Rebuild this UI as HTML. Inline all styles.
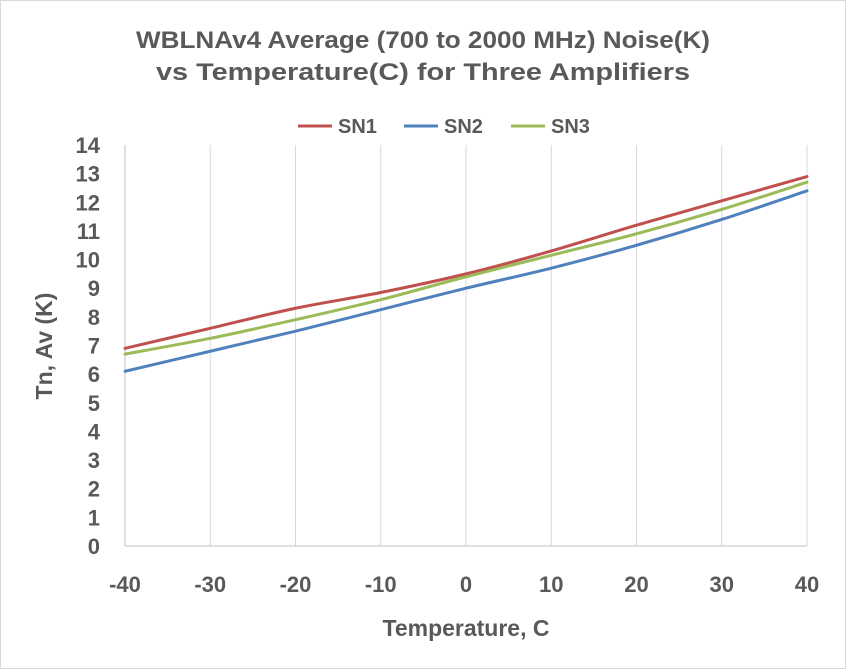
<!DOCTYPE html>
<html><head><meta charset="utf-8"><style>
body{margin:0;background:#fff;}
svg{display:block;font-family:"Liberation Sans",Arial,sans-serif;}
</style></head><body>
<svg id="chart" width="846" height="669" viewBox="0 0 846 669">
<rect x="0.5" y="0.5" width="845" height="668" fill="#fff" stroke="#d9d9d9"/>
<text x="423" y="48" text-anchor="middle" font-size="24" font-weight="bold" fill="#595959" textLength="574" lengthAdjust="spacingAndGlyphs">WBLNAv4 Average  (700 to 2000 MHz) Noise(K)</text>
<text x="423" y="80" text-anchor="middle" font-size="24" font-weight="bold" fill="#595959" textLength="534" lengthAdjust="spacingAndGlyphs">vs  Temperature(C)  for Three Amplifiers</text>
<g id="grid"></g>
<g id="axes"></g>
<g id="series"></g>
<g id="legend"></g>
<text x="0" y="0" transform="translate(52,346) rotate(-90)" text-anchor="middle" font-size="23" font-weight="bold" fill="#595959">Tn, Av (K)</text>
<text x="466" y="636" text-anchor="middle" font-size="23" font-weight="bold" fill="#595959">Temperature, C</text>
</svg>
<script>
const temps=[-40,-30,-20,-10,0,10,20,30,40];
const sn1=[6.9,7.6,8.3,8.85,9.5,10.3,11.2,12.05,12.9];
const sn2=[6.1,6.8,7.5,8.25,9.0,9.7,10.5,11.4,12.4];
const sn3=[6.7,7.25,7.9,8.6,9.4,10.15,10.9,11.75,12.7];
const xTicks=[-40,-30,-20,-10,0,10,20,30,40];
const yTicks=[0,1,2,3,4,5,6,7,8,9,10,11,12,13,14];
const seriesNames=["SN1","SN2","SN3"];
const NS="http://www.w3.org/2000/svg";
const X0=125,X1=807,Y0=546,Y1=145;
function xs(v){return X0+(v+40)/80*(X1-X0);}
function ys(v){return Y0-v/14*(Y0-Y1);}
function mk(tag,attrs,parent){const e=document.createElementNS(NS,tag);for(const k in attrs)e.setAttribute(k,attrs[k]);parent.appendChild(e);return e;}
const grid=document.getElementById('grid'),axes=document.getElementById('axes'),ser=document.getElementById('series'),leg=document.getElementById('legend');
xTicks.forEach(t=>{
 if(t>-40){const l=mk('line',{x1:xs(t),x2:xs(t),y1:Y1,y2:Y0,stroke:'#d9d9d9','stroke-width':1},grid);
 
 }
 const tx=mk('text',{x:xs(t),y:Y0+46,'text-anchor':'middle','font-size':22,'font-weight':'bold',fill:'#595959'},axes);
 tx.textContent=t;
 
 
});
yTicks.forEach(t=>{
 const tx=mk('text',{x:100,y:ys(t)+8,'text-anchor':'end','font-size':22,'font-weight':'bold',fill:'#595959'},axes);
 tx.textContent=t;
 
 
});
const ax=mk('line',{x1:X0,x2:X1,y1:Y0,y2:Y0,stroke:'#bfbfbf','stroke-width':1},axes);


const ay=mk('line',{x1:X0,x2:X0,y1:Y1,y2:Y0,stroke:'#bfbfbf','stroke-width':1},axes);


const colors=['#c0504d','#4f81bd','#9bbb59'];
[sn1,sn2,sn3].forEach((vals,i)=>{
 const pts=temps.map((t,j)=>[xs(t),ys(vals[j])]);
 let d='M'+pts[0][0]+','+pts[0][1];
 for(let j=0;j<pts.length-1;j++){
  const p0=pts[Math.max(0,j-1)],p1=pts[j],p2=pts[j+1],p3=pts[Math.min(pts.length-1,j+2)];
  const c1=[p1[0]+(p2[0]-p0[0])/6,p1[1]+(p2[1]-p0[1])/6],c2=[p2[0]-(p3[0]-p1[0])/6,p2[1]-(p3[1]-p1[1])/6];
  d+=' C'+c1+' '+c2+' '+p2;
 }
 const p=mk('path',{d:d,fill:'none',stroke:colors[i],'stroke-width':3,'stroke-linecap':'round'},ser);
 
 
 const lx=[298,404,511][i];
 const ll=mk('line',{x1:lx,x2:lx+34,y1:126,y2:126,stroke:colors[i],'stroke-width':3},leg);
 
 
 const lt=mk('text',{x:lx+40,y:133,'font-size':20,'font-weight':'bold',fill:'#595959'},leg);
 lt.textContent=seriesNames[i];
 
 
});
</script>
</body></html>
